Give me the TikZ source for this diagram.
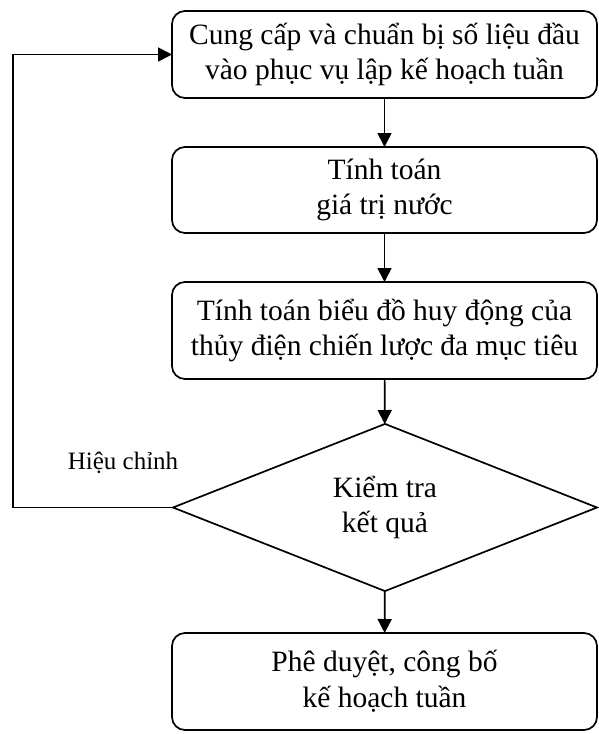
\documentclass[tikz,border=0pt]{standalone}
\usepackage{fontspec}
\setmainfont{Liberation Serif}
\usetikzlibrary{shapes.geometric,arrows.meta}
\begin{document}
\begin{tikzpicture}[x=1pt,y=-1pt,
  line/.style={line width=1.7pt},
  box/.style={line, draw, rounded corners=13pt, minimum width=425pt, align=center,
    font=\fontsize{29.5}{35.5}\selectfont, inner sep=0pt, outer sep=0pt},
  dec/.style={line, draw, diamond, minimum width=424pt, minimum height=161pt, align=center,
    font=\fontsize{29.5}{35.5}\selectfont, inner sep=0pt, outer sep=0pt},
  arr/.style={line, -{Triangle[length=14pt,width=14pt]}},
  lbl/.style={font=\fontsize{25}{30}\selectfont, inner sep=0pt}]
\useasboundingbox (0,0) rectangle (598,734);
\node[box, minimum height=87pt] (b1) at (384.5,54.5) {Cung cấp và chuẩn bị số liệu đầu\\vào phục vụ lập kế hoạch tuần};
\node[box, minimum height=86pt] (b2) at (384.5,190) {Tính toán\\giá trị nước};
\node[box, minimum height=97pt] (b3) at (384.5,330.5) {Tính toán biểu đồ huy động của\\thủy điện chiến lược đa mục tiêu};
\node[dec] (d) at (385,507.5) {Kiểm tra\\kết quả};
\node[box, minimum height=97pt] (b5) at (384.5,681.5) {Phê duyệt, công bố\\kế hoạch tuần};
\node[lbl] (hc) at (123,463) {Hiệu chỉnh};
\coordinate (c1) at (13,507.5);
\coordinate (c2) at (13,54.5);
\draw[arr] (b1) -- (b2);
\draw[arr] (b2) -- (b3);
\draw[arr] (b3) -- (d);
\draw[arr] (d) -- (b5);
\draw[arr] (d.west) -- (c1) -- (c2) -- (b1.west);
\end{tikzpicture}
\end{document}
